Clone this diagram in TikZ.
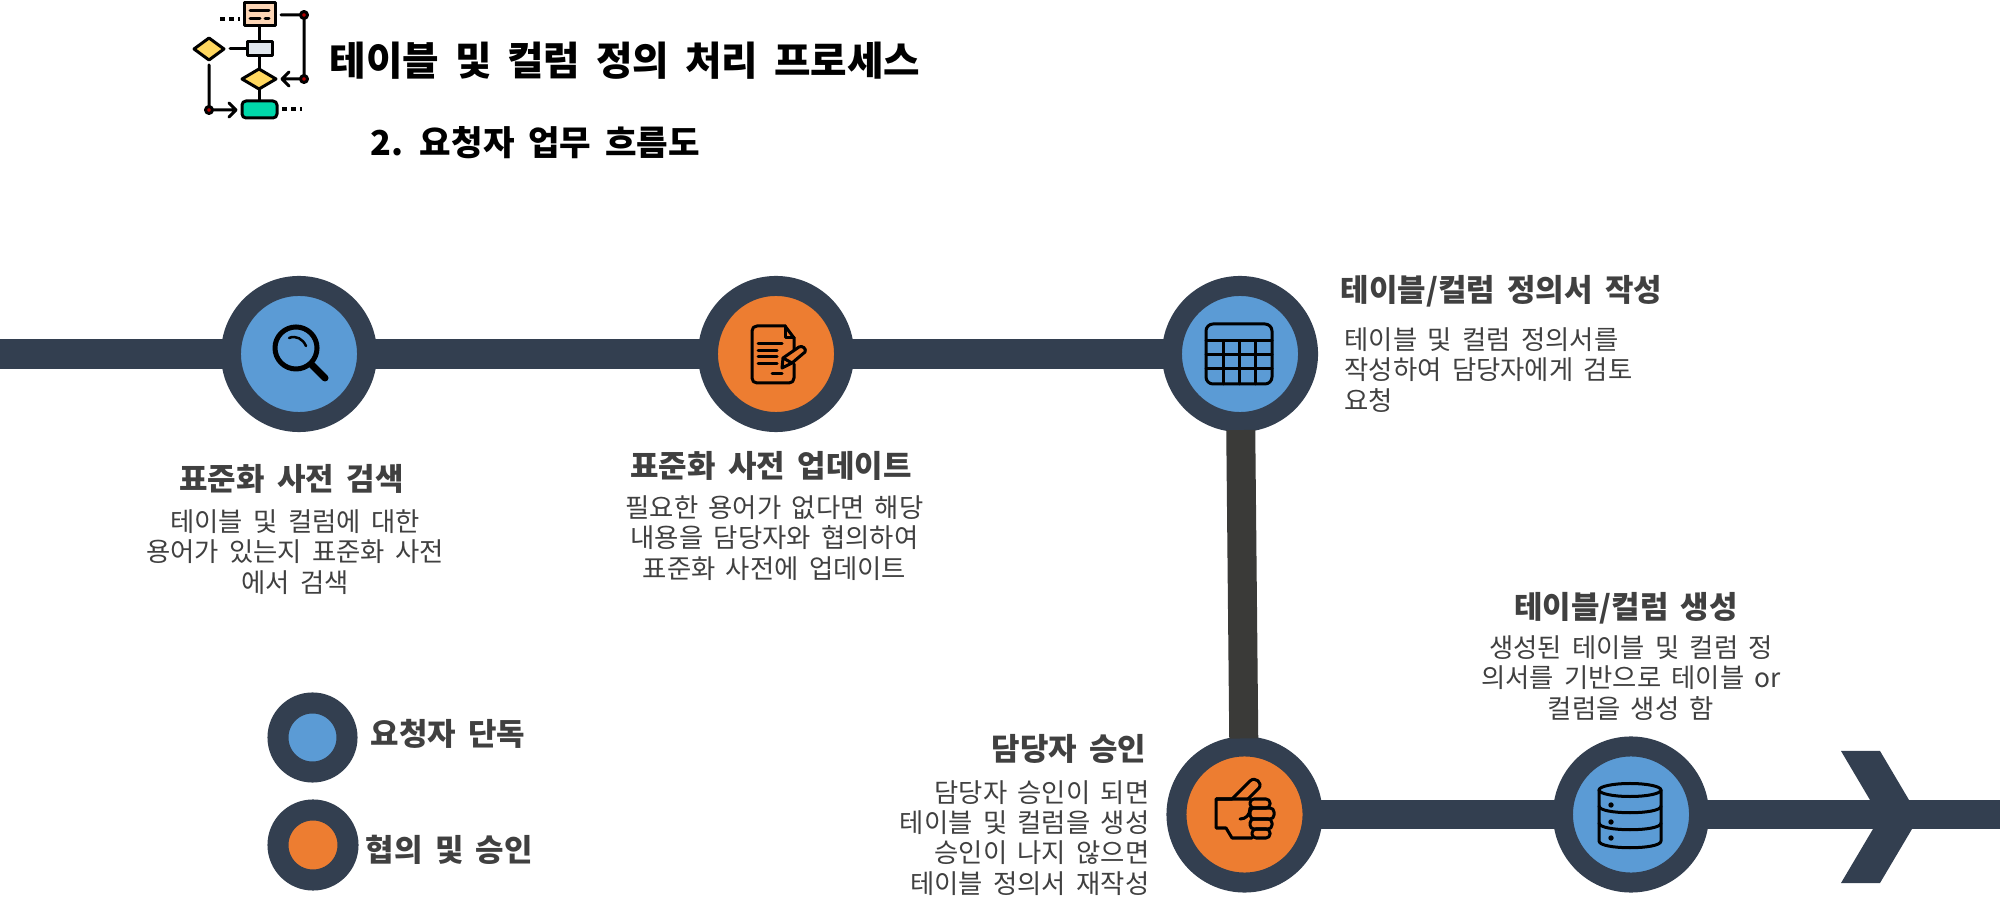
\documentclass[tikz,border=0pt]{standalone}
\usepackage{fontspec}
\setmainfont{Noto Sans CJK KR}[WordSpace=1.75]
\usetikzlibrary{arrows.meta,positioning,calc}
\definecolor{navy}{HTML}{333F50}
\definecolor{stem}{HTML}{3A3A38}
\definecolor{stepblue}{HTML}{5B9BD5}
\definecolor{steporange}{HTML}{ED7D31}
\definecolor{label}{HTML}{404040}
\definecolor{iconpeach}{HTML}{FCD5B5}
\definecolor{iconyellow}{HTML}{FFD75F}
\definecolor{icongreen}{HTML}{00D8AA}
\definecolor{icongrey}{HTML}{E0E6EC}
\tikzset{
  station/.style={circle,draw=navy,line width=.2cm,minimum size=1.36cm,inner sep=0pt,outer sep=.08cm},
  legendmark/.style={circle,draw=navy,line width=.21cm,minimum size=.7cm,inner sep=0pt},
  band/.style={draw=navy,line width=.29cm},
  heading/.style={text=label,inner sep=0pt,font=\fontsize{8.8}{10}\selectfont\bfseries},
  body/.style={text=label,inner sep=0pt,font=\fontsize{7.5}{8.6}\selectfont},
  icon/.style={draw=black,line width=.03cm,line join=round,line cap=round},
  flowdots/.style={draw=black,line width=.035cm,dash pattern=on .05cm off .04cm},
}
\begin{document}
\begin{tikzpicture}[x=.01cm,y=-.01cm]
\useasboundingbox (0,0) rectangle (2015,913);
\node[station,fill=stepblue] (search) at (299,354) {};
\node[station,fill=steporange] (update) at (776,354) {};
\node[station,fill=stepblue] (write) at (1240,354) {};
\node[station,fill=steporange] (approve) at (1244.5,814.5) {};
\node[station,fill=stepblue] (create) at (1631,814.5) {};
\coordinate (start) at (0,354);
\coordinate (finish) at (2000,814.5);
\fill[navy] (1841,751)--(1880,751)--(1909,800)--(1912,829)--(1880,883)--(1841,883)--(1873,829)--(1870,800)--cycle;
\draw[band] (start)--(search);
\draw[band] (search)--(update);
\draw[band] (update)--(write);
\draw[band,draw=stem] (write)--(approve);
\draw[band] (approve)--(create);
\draw[band] (create)--(finish);
\node[legendmark,minimum size=.69cm,fill=stepblue] (solo) at (312.5,737.5) {};
\node[legendmark,fill=steporange] (joint) at (313,845) {};
\node[text=black,inner sep=0pt,anchor=west,font=\fontsize{11.28}{12}\selectfont\bfseries] (title) at (329,61) {테이블 및 컬럼 정의 처리 프로세스};
\node[text=black,inner sep=0pt,anchor=west,font=\fontsize{9.75}{12}\selectfont\bfseries] (subtitle) at (370,143) {2. 요청자 업무 흐름도};
\node[heading] (searchhead) at (291.5,479) {표준화 사전 검색};
\node[body,align=center] (searchtext) at (295,552) {테이블 및 컬럼에 대한\\용어가 있는지 표준화 사전\\에서 검색};
\node[heading] (updatehead) at (771,466) {표준화 사전 업데이트};
\node[body,align=center] (updatetext) at (774.5,538) {필요한 용어가 없다면 해당\\내용을 담당자와 협의하여\\표준화 사전에 업데이트};
\node[heading,anchor=west] (writehead) at (1340,291) {테이블/컬럼 정의서 작성};
\node[body,align=left,anchor=west] (writetext) at (1344,370) {테이블 및 컬럼 정의서를\\작성하여 담당자에게 검토\\요청};
\node[heading,anchor=east] (approvehead) at (1147,749) {담당자 승인};
\node[body,align=right,anchor=east] (approvetext) at (1150,838) {담당자 승인이 되면\\테이블 및 컬럼을 생성\\승인이 나지 않으면\\테이블 정의서 재작성};
\node[heading] (createhead) at (1626,608) {테이블/컬럼 생성};
\node[body,align=center] (createtext) at (1631,678) {생성된 테이블 및 컬럼 정\\의서를 기반으로 테이블 or\\컬럼을 생성 함};
\node[heading,anchor=west] (sololabel) at (370,734) {요청자 단독};
\node[heading,anchor=west] (jointlabel) at (365,850) {협의 및 승인};
% flow chart icon
\draw[icon,fill=iconpeach] (244,3) rectangle (275,26);
\draw[icon] (250,11)--(269,11) (250,19)--(260,19) (265,19)--(269,19);
\draw[flowdots] (220,19)--(240,19);
\draw[icon] (281,15)--(304,15)--(304,79)--(282,79) (289,72)--(282,79)--(289,86);
\draw[icon] (259,26)--(259,42) (259,56)--(259,69) (259,89)--(259,101);
\draw[icon,fill=icongrey] (247,42) rectangle (272,56);
\draw[icon] (230,49)--(247,49);
\draw[icon,fill=iconyellow] (194,49)--(209,38)--(224,49)--(209,60)--cycle;
\draw[icon,fill=iconyellow] (242,79)--(259,69)--(276,79)--(259,89)--cycle;
\draw[icon] (209,65)--(209,110)--(236,110) (229,103)--(236,110)--(229,117);
\draw[icon,fill=icongreen,rounded corners=.04cm] (242,101) rectangle (277,118);
\draw[flowdots] (282,109)--(302,109);
\foreach \dotx/\doty in {304/15,304/79,209/110} \draw[icon,fill=red!70!black] (\dotx,\doty) circle (.035cm);
% magnifier
\draw[icon,line width=.05cm] (296,348) circle (.21cm);
\draw[icon,line width=.07cm] (312,365)--(325,378);
\draw[icon,line width=.025cm] (289,338) .. controls (296,335) and (303,339) .. (306,346);
% document with pen
\draw[icon] (794,350)--(794,338)--(785,326)--(757,326) .. controls (754,326) and (752,328) .. (752,331)--(752,378) .. controls (752,381) and (754,383) .. (757,383)--(789,383) .. controls (792,383) and (794,381) .. (794,378)--(794,364);
\draw[icon] (785,326)--(785,338)--(794,338);
\foreach \liney/\lineend in {344/782,351/777,357/777,364/777} \draw[icon] (758,\liney)--(\lineend,\liney);
\draw[icon] (772,374)--(782,374);
\draw[icon] (782,368)--(783,358)--(799,347) .. controls (802,345) and (807,349) .. (805,352)--(792,363)--cycle;
\draw[icon] (783,358)--(792,363);
% table
\draw[icon,rounded corners=.07cm] (1206,324) rectangle (1272,384);
\foreach \liney in {341,355,369} \draw[icon] (1206,\liney)--(1272,\liney);
\foreach \linex in {1223,1239,1255} \draw[icon] (\linex,341)--(\linex,384);
% thumb
\draw[icon] (1250,799)--(1216,799)--(1216,828)--(1226,828)--(1232,838)--(1252,838);
\draw[icon] (1216,799)--(1232,799)--(1250,781) .. controls (1255,776) and (1263,783) .. (1259,788)--(1248,799);
\draw[icon] (1240,819) .. controls (1246,819) and (1250,815) .. (1250,808);
\foreach \fingerl/\fingert/\fingerr/\fingerb in {1250/799/1270/808,1250/808/1274/819,1250/819/1272/829,1252/829/1270/838}
  \draw[icon,rounded corners=.04cm] (\fingerl,\fingert) rectangle (\fingerr,\fingerb);
% database
\draw[icon] (1630,790) ellipse [x radius=.31cm,y radius=.065cm];
\draw[icon] (1599,790)--(1599,841) .. controls (1599,850) and (1661,850) .. (1661,841)--(1661,790);
\draw[icon] (1599,806) .. controls (1599,815) and (1661,815) .. (1661,806);
\draw[icon] (1599,823) .. controls (1599,832) and (1661,832) .. (1661,823);
\foreach \doty in {805,822,838} \fill (1611,\doty) circle (.027cm);
\end{tikzpicture}
\end{document}
